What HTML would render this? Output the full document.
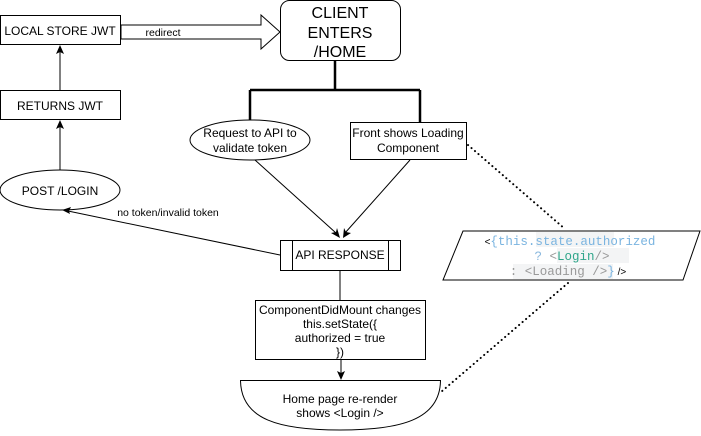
<!DOCTYPE html>
<html><head><style>
body{margin:0;background:#fff;}
svg text{font-family:"Liberation Sans",sans-serif;font-size:12px;fill:#000;}
.m{font-family:"Liberation Mono",monospace;font-size:12.5px;}
</style></head><body>
<svg width="701" height="431" viewBox="0 0 701 431" xmlns="http://www.w3.org/2000/svg">
<g fill="#fff" stroke="#000" stroke-width="1">
<rect x="0.5" y="15.5" width="120" height="29"/>
<text x="60" y="35" text-anchor="middle" stroke="none">LOCAL STORE JWT</text>
<rect x="0.5" y="90.5" width="120" height="29"/>
<text x="60" y="110" text-anchor="middle" stroke="none">RETURNS JWT</text>
<ellipse cx="60" cy="190" rx="60" ry="20"/>
<text x="60" y="195" text-anchor="middle" stroke="none">POST /LOGIN</text>
<path d="M121,25 H261 V15 L280,32 L261,49 V39 H121z"/>
<rect x="143" y="26" width="38" height="12" stroke="none"/>
<text x="163" y="36" text-anchor="middle" stroke="none" style="font-size:10.5px">redirect</text>
<rect x="280.5" y="0.5" width="120" height="60" rx="9"/>
<text x="340" y="18" text-anchor="middle" stroke="none" style="font-size:16px">CLIENT</text>
<text x="340" y="38" text-anchor="middle" stroke="none" style="font-size:16px">ENTERS</text>
<text x="340" y="57" text-anchor="middle" stroke="none" style="font-size:16px">/HOME</text>
<path d="M335,60 V90 M250,90 H420 M250,90 V122 M420,90 V122" fill="none" stroke-width="2.5"/>
<ellipse cx="250" cy="140" rx="60" ry="20"/>
<text x="250" y="137" text-anchor="middle" stroke="none">Request to API to</text>
<text x="250" y="152" text-anchor="middle" stroke="none">validate token</text>
<rect x="350.5" y="122.5" width="116" height="37"/>
<text x="408" y="137" text-anchor="middle" stroke="none">Front shows Loading</text>
<text x="408" y="152" text-anchor="middle" stroke="none">Component</text>
<path d="M60,90 V50 M60,170 V124 M280,255 L68,211 M255,160 L336,233 M410,160 L345,233 M341,360 V374" fill="none"/>
<text x="168" y="216" text-anchor="middle" stroke="none" style="font-size:10.5px">no token/invalid token</text>
<rect x="280.5" y="240.5" width="120" height="30"/>
<path d="M292.5,240 V270 M388.5,240 V270" fill="none"/>
<text x="340" y="259" text-anchor="middle" stroke="none">API RESPONSE</text>
<path d="M340,271 V300" fill="none"/>
<rect x="255.5" y="300.5" width="170" height="59"/>
<text x="340" y="314" text-anchor="middle" stroke="none">ComponentDidMount changes</text>
<text x="340" y="328" text-anchor="middle" stroke="none">this.setState({</text>
<text x="340" y="342" text-anchor="middle" stroke="none">authorized = true</text>
<text x="340" y="356" text-anchor="middle" stroke="none">})</text>
<path d="M240.5,380.5 H440.5 C440,420 400,430 340,430 C280,430 241,420 240.5,380.5z"/>
<text x="340" y="403" text-anchor="middle" stroke="none">Home page re-render</text>
<text x="340" y="417" text-anchor="middle" stroke="none">shows &lt;Login /&gt;</text>
<path d="M463,231 H700 L683,280 H443z"/>
</g>
<g fill="#000" stroke="none">
<path d="M60,45 L64,54 L60,52 L56,54z"/>
<path d="M60,120 L64,129 L60,127 L56,129z"/>
<path d="M62,210 L71,207 L69,211 L70,214z"/>
<path d="M340,238 L331,233 L336,232 L337,228z"/>
<path d="M343,238 L344,228 L346,232 L351,233z"/>
<path d="M341,380 L337,371 L341,373 L345,371z"/>
</g>
<path d="M468,145 L565,229 M568,283 L441,392" stroke="#000" stroke-width="2" stroke-dasharray="0.1 4.5" fill="none" stroke-linecap="round"/>
<rect x="536" y="232" width="78" height="15" fill="#f3f4f5"/>
<rect x="557" y="248" width="72" height="15" fill="#f3f4f5"/>
<rect x="513" y="264" width="100" height="15" fill="#f3f4f5"/>
<text class="m" x="570" y="245" text-anchor="middle"><tspan fill="#000" style="font-family:'Liberation Sans';font-size:10px">&lt;</tspan><tspan fill="#7ab4e0">{this.state.authorized</tspan></text>
<text class="m" x="572" y="260" text-anchor="middle"><tspan fill="#8ab8de">? </tspan><tspan fill="#999">&lt;</tspan><tspan fill="#2fa58a">Login</tspan><tspan fill="#999">/&gt;</tspan></text>
<text class="m" x="568" y="275" text-anchor="middle"><tspan fill="#999">: &lt;Loading /&gt;</tspan><tspan fill="#7ab4e0">}</tspan><tspan fill="#000" style="font-family:'Liberation Sans';font-size:10px"> /&gt;</tspan></text>
</svg>
</body></html>
